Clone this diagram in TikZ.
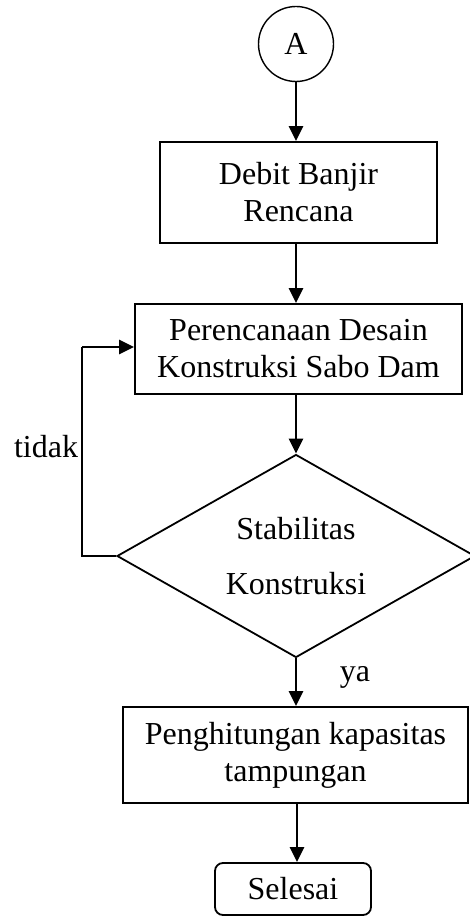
\documentclass[tikz,border=0pt]{standalone}
\usepackage{fontspec}
\setmainfont{Liberation Serif}
\usetikzlibrary{shapes.geometric,arrows.meta}
\begin{document}
\begin{tikzpicture}[x=1pt,y=-1pt,
  every node/.style={font=\fontsize{32}{37}\selectfont, inner sep=0pt, align=center},
  boxstyle/.style={draw, line width=1.8pt, rectangle},
  arr/.style={line width=2.8pt, -{Triangle[length=15pt,width=14pt]}},
  ln/.style={line width=2pt}]
\useasboundingbox (0,0) rectangle (470,917);
\node[draw, circle, line width=1.4pt, minimum size=75pt] (a) at (296,44) {A};
\node[boxstyle, minimum width=277pt, minimum height=101pt] (b1) at (298.5,192.5) {Debit Banjir\\Rencana};
\node[boxstyle, minimum width=327pt, minimum height=90pt] (b2) at (298.5,349) {Perencanaan Desain\\Konstruksi Sabo Dam};
\node[draw, diamond, line width=1.8pt, shape aspect=1.76, minimum width=358pt, minimum height=203pt] (d) at (296,556) {};
\node at (296,529) (s1) {Stabilitas};
\node at (296,584) (s2) {Konstruksi};
\node[boxstyle, minimum width=345pt, minimum height=96pt] (b3) at (295.5,755) {Penghitungan kapasitas\\tampungan};
\node[draw, rounded corners=8pt, line width=1.8pt, minimum width=156pt, minimum height=52pt] (e) at (293,889) {Selesai};
\coordinate (c1) at (82,556);
\coordinate (c2) at (82,347);
\draw[arr] (a.south) -- (b1.north -| a.south);
\draw[arr] (b1.south -| a.south) -- (b2.north -| a.south);
\draw[arr] (b2.south -| d.north) -- (d.north);
\draw[arr] (d.south) -- (b3.north -| d.south);
\draw[arr] (b3.south -| 297,0) -- (e.north -| 297,0);
\draw[ln] (d.west) -- (c1) -- (c2);
\draw[arr] (c2) -- (c2 -| b2.west);
\node (t) at (46,447) {tidak};
\node (y) at (355,677) {ya};
\end{tikzpicture}
\end{document}
